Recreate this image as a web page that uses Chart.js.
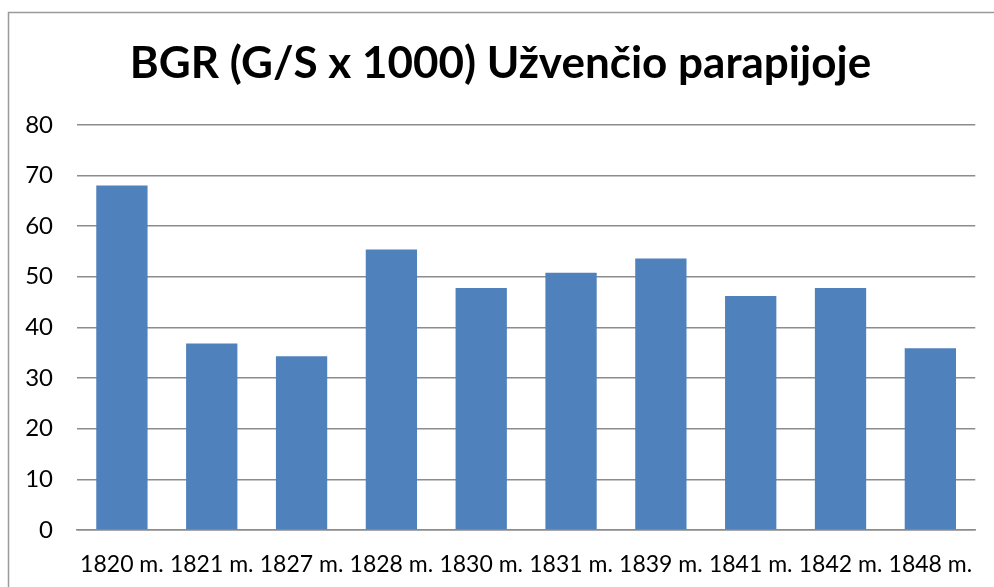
<!DOCTYPE html>
<html>
<head>
<meta charset="utf-8">
<script src="https://cdn.jsdelivr.net/npm/chart.js@4/dist/chart.umd.min.js"></script>
<style>
  html, body { margin: 0; padding: 0; background: #fff; }
  #wrap { width: 994px; height: 587px; position: relative; }
</style>
</head>
<body>
<div id="wrap"><canvas id="bgrChart" width="994" height="587"></canvas></div>
<script>
// chart data
const years = ["1820 m.", "1821 m.", "1827 m.", "1828 m.", "1830 m.", "1831 m.", "1839 m.", "1841 m.", "1842 m.", "1848 m."]
const bgrValues = [68.0, 36.8, 34.3, 55.4, 47.8, 50.8, 53.6, 46.2, 47.8, 35.9]
const yTicks = [0, 10, 20, 30, 40, 50, 60, 70, 80]
const chartTitle = "BGR (G/S x 1000) Užvenčio parapijoje"

// outer frame like the office chart box
const frameBorder = {
  id: "frameBorder",
  beforeDraw(chart) {
    const c = chart.ctx
    c.save()
    c.strokeStyle = "#9a9a9a"
    c.lineWidth = 1.5
    c.beginPath()
    c.moveTo(8.5, chart.height + 5)
    c.lineTo(8.5, 12.5)
    c.lineTo(chart.width + 5, 12.5)
    c.stroke()
    c.restore()
  },
}

document.addEventListener("DOMContentLoaded", () => {
  const ctx = document.getElementById("bgrChart")

  new Chart(ctx, {
    type: "bar",
    data: {
      labels: years,
      datasets: [
        {
          data: bgrValues,
          backgroundColor: "#4F81BD",
          borderWidth: 0,
          categoryPercentage: 1,
          barPercentage: 0.571,
        },
      ],
    },
    options: {
      responsive: false,
      animation: false,
      // left padding nudges the title right, like the original box
      layout: { padding: { left: 24, right: 17, top: 0, bottom: 0 } },
      plugins: {
        legend: { display: false },
        tooltip: { enabled: false },
        title: {
          display: true,
          text: chartTitle,
          color: "#000",
          font: { family: "Lato", size: 44, weight: "bold", lineHeight: 1.2 },
          padding: { top: 37, bottom: 35 },
        },
      },
      scales: {
        x: {
          afterFit: (scale) => {
            scale.height = 57
          },
          grid: { display: false, drawTicks: false },
          border: { display: true, color: "#8c8c8c", width: 1.5 },
          ticks: {
            color: "#000",
            font: { family: "Lato", size: 23 },
            maxRotation: 0,
            autoSkip: false,
            padding: 21,
          },
        },
        y: {
          min: 0,
          max: 80,
          afterBuildTicks: (scale) => {
            scale.ticks = yTicks.map((v) => ({ value: v }))
          },
          afterFit: (scale) => {
            scale.width = 53
          },
          grid: { color: "#8c8c8c", lineWidth: 1.5, drawTicks: false },
          border: { display: false },
          ticks: {
            color: "#000",
            font: { family: "Lato", size: 24 },
            padding: 24,
          },
        },
      },
    },
    plugins: [frameBorder],
  })
})
</script>
</body>
</html>
